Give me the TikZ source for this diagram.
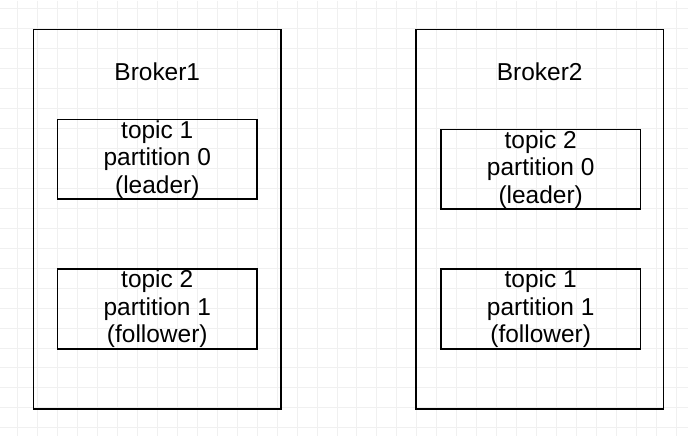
\documentclass[tikz,border=0pt]{standalone}
\usepackage{fontspec}
\setmainfont{Liberation Sans}
\usepackage{tikz}
\definecolor{griglia}{HTML}{F0F0F0}

\begin{document}
\begin{tikzpicture}[x=1pt, y=-1pt,
        every node/.style={font=\fontsize{24.5}{27.5}\selectfont, inner sep=0pt},
        brokerbox/.style={draw, line width=1.5pt, minimum width=248pt, minimum height=380pt},
        partbox/.style={draw, line width=1.5pt, minimum width=200pt, minimum height=80pt, align=center}]
    % Sfondo e griglia
    \fill[white] (0,0) rectangle (688,436);
    \foreach \gx in {17,37,...,677}
        \draw[griglia, line width=1pt] (\gx,0) -- (\gx,436);
    \foreach \gy in {8,28,...,428}
        \draw[griglia, line width=1pt] (0,\gy) -- (688,\gy);
    \useasboundingbox (0,0) rectangle (688,436);

    % Broker
    \node[brokerbox] (broker1) at (157,219) {};
    \node[brokerbox] (broker2) at (540,219) {};
    \node (label1) at (157,71) {Broker1};
    \node (label2) at (540,71) {Broker2};

    % Partizioni
    \node[partbox] (b1lead) at (157,159) {topic 1\\partition 0\\(leader)};
    \node[partbox] (b1foll) at (157,309) {topic 2\\partition 1\\(follower)};
    \node[partbox] (b2lead) at (541,169) {topic 2\\partition 0\\(leader)};
    \node[partbox] (b2foll) at (541,309) {topic 1\\partition 1\\(follower)};
\end{tikzpicture}
\end{document}
